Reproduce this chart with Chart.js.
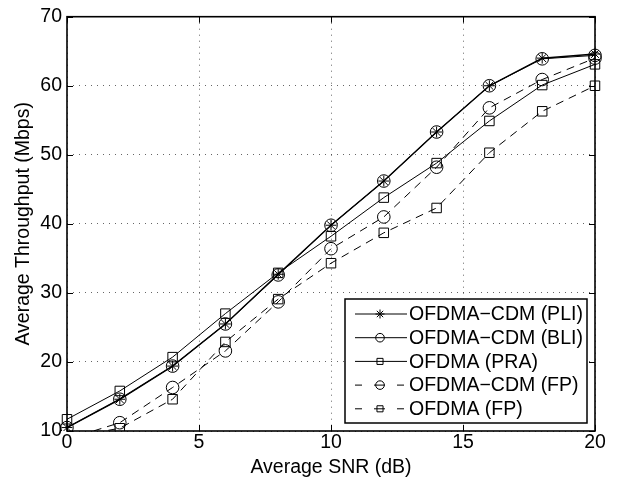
<!DOCTYPE html>
<html>
<head>
<meta charset="utf-8">
<script src="https://cdn.jsdelivr.net/npm/chart.js@4/dist/chart.umd.min.js"></script>
<style>
  html, body { margin: 0; padding: 0; background: #fff; }
  #wrap { width: 618px; height: 481px; }
</style>
</head>
<body>
<div id="wrap"><canvas id="chart" width="618" height="481"></canvas></div>
<script>
const snr = [0, 2, 4, 6, 8, 10, 12, 14, 16, 18, 20];
const pli = [10.5, 14.6, 19.4, 25.5, 32.7, 39.8, 46.2, 53.3, 60.0, 64.0, 64.6];
const bli = [10.5, 14.6, 19.4, 25.5, 32.6, 39.8, 46.2, 53.3, 60.0, 63.9, 64.4];
const pra = [11.7, 15.8, 20.7, 27.0, 32.9, 38.2, 43.8, 48.8, 54.9, 60.1, 63.1];
const cdmFp = [8.8, 11.2, 16.3, 21.6, 28.7, 36.4, 41.0, 48.2, 56.8, 60.9, 64.0];
const ofdmaFp = [9.0, 10.4, 14.6, 22.9, 29.1, 34.3, 38.7, 42.3, 50.3, 56.3, 60.0];
const labels = ["OFDMA\u2212CDM (PLI)", "OFDMA\u2212CDM (BLI)", "OFDMA (PRA)", "OFDMA\u2212CDM (FP)", "OFDMA (FP)"];
const xTicks = [0, 5, 10, 15, 20];
const yTicks = [10, 20, 30, 40, 50, 60, 70];

const FONT = "'Liberation Sans', Arial, Helvetica, sans-serif";
const FS = 19.5;
Chart.defaults.font.family = FONT;
Chart.defaults.font.size = FS;
Chart.defaults.color = "#000";

const pts = (vals) => vals.map((v, i) => ({ x: snr[i], y: v }));
const CLIP = { left: 10, top: 10, right: 10, bottom: 0 };

function series(label, vals, style, radius, dashed, width) {
  return {
    label, data: pts(vals),
    borderColor: "#000", backgroundColor: "transparent",
    borderWidth: width || 1, borderDash: dashed ? [8, 6] : [],
    pointStyle: style, pointRadius: radius, pointHoverRadius: radius,
    pointBorderColor: "#000", pointBackgroundColor: "transparent", pointBorderWidth: 1,
    tension: 0, clip: CLIP,
  };
}

const datasets = [
  series(labels[0], pli, "star", 5.5, false, 1.5),
  series(labels[1], bli, "circle", 6.3, false, 1),
  series(labels[2], pra, "rect", 6.7, false, 1),
  series(labels[3], cdmFp, "circle", 6.3, true, 1),
  series(labels[4], ofdmaFp, "rect", 6.7, true, 1),
];

// box around the plot with inward ticks on all four sides
const frame = {
  id: "frame",
  afterDatasetsDraw(chart) {
    const { ctx, chartArea: a, scales: { x, y } } = chart;
    ctx.save();
    ctx.strokeStyle = "#000";
    ctx.lineWidth = 1;
    ctx.beginPath();
    xTicks.forEach((t) => {
      const px = Math.round(x.getPixelForValue(t)) + 0.5;
      ctx.moveTo(px, a.bottom); ctx.lineTo(px, a.bottom - 6);
      ctx.moveTo(px, a.top); ctx.lineTo(px, a.top + 6);
    });
    yTicks.forEach((t) => {
      const py = Math.round(y.getPixelForValue(t)) + 0.5;
      ctx.moveTo(a.left, py); ctx.lineTo(a.left + 6, py);
      ctx.moveTo(a.right, py); ctx.lineTo(a.right - 6, py);
    });
    ctx.stroke();
    ctx.lineWidth = 1.6;
    ctx.strokeRect(a.left, a.top, a.right - a.left, a.bottom - a.top);
    ctx.restore();
  },
};

// matlab style legend box in the lower right
const legendBox = {
  id: "legendBox",
  afterDraw(chart) {
    const ctx = chart.ctx;
    const box = { left: 345, top: 299, w: 242, h: 124 };
    const rowY = (i) => 314 + i * 23.7;
    ctx.save();
    ctx.fillStyle = "#fff";
    ctx.fillRect(box.left, box.top, box.w, box.h);
    ctx.strokeStyle = "#000";
    ctx.lineWidth = 1.5;
    ctx.strokeRect(box.left, box.top, box.w, box.h);
    chart.data.datasets.forEach((ds, i) => {
      const yy = rowY(i);
      ctx.strokeStyle = "#000";
      ctx.lineWidth = 1;
      ctx.beginPath();
      if (ds.borderDash.length) {
        ctx.moveTo(355, yy); ctx.lineTo(362, yy);
        ctx.moveTo(374, yy); ctx.lineTo(385, yy);
        ctx.moveTo(397, yy); ctx.lineTo(404, yy);
      } else {
        ctx.moveTo(355, yy); ctx.lineTo(407, yy);
      }
      ctx.stroke();
      ctx.fillStyle = "rgba(0,0,0,0)";
      Chart.helpers.drawPoint(ctx, {
        pointStyle: ds.pointStyle, radius: ds.pointStyle === "star" ? 4.5 : 4.3,
        borderWidth: 1, rotation: 0,
      }, 380, yy);
      ctx.fillStyle = "#000";
      ctx.font = FS + "px " + FONT;
      ctx.textBaseline = "middle";
      ctx.textAlign = "left";
      ctx.fillText(ds.label, 409, yy + 1);
    });
    ctx.restore();
  },
};

new Chart(document.getElementById("chart"), {
  type: "line",
  data: { datasets },
  options: {
    responsive: false,
    animation: false,
    events: [],
    layout: { padding: { top: 15, right: 23, left: 0, bottom: 0 } },
    plugins: { legend: { display: false }, tooltip: { enabled: false } },
    scales: {
      x: {
        type: "linear", min: 0, max: 20,
        afterFit: (s) => { s.height = 50; },
        afterBuildTicks: (s) => { s.ticks = xTicks.map((v) => ({ value: v })); },
        ticks: { padding: 0, font: { size: FS }, color: "#000" },
        grid: { drawTicks: false, color: "rgba(0,0,0,0.6)", lineWidth: 1 },
        border: { display: false, dash: [1, 5] },
        title: { display: true, text: "Average SNR (dB)", font: { size: FS }, color: "#000", padding: { top: 0, bottom: 2 } },
      },
      y: {
        type: "linear", min: 10, max: 70,
        afterFit: (s) => { s.width = 67; },
        afterBuildTicks: (s) => { s.ticks = yTicks.map((v) => ({ value: v })); },
        ticks: { padding: 5, font: { size: FS }, color: "#000" },
        grid: { drawTicks: false, color: "rgba(0,0,0,0.6)", lineWidth: 1 },
        border: { display: false, dash: [1, 5] },
        title: { display: true, text: "Average Throughput (Mbps)", font: { size: FS }, color: "#000", padding: { top: 12, bottom: 0 } },
      },
    },
  },
  plugins: [frame, legendBox],
});
</script>
</body>
</html>
